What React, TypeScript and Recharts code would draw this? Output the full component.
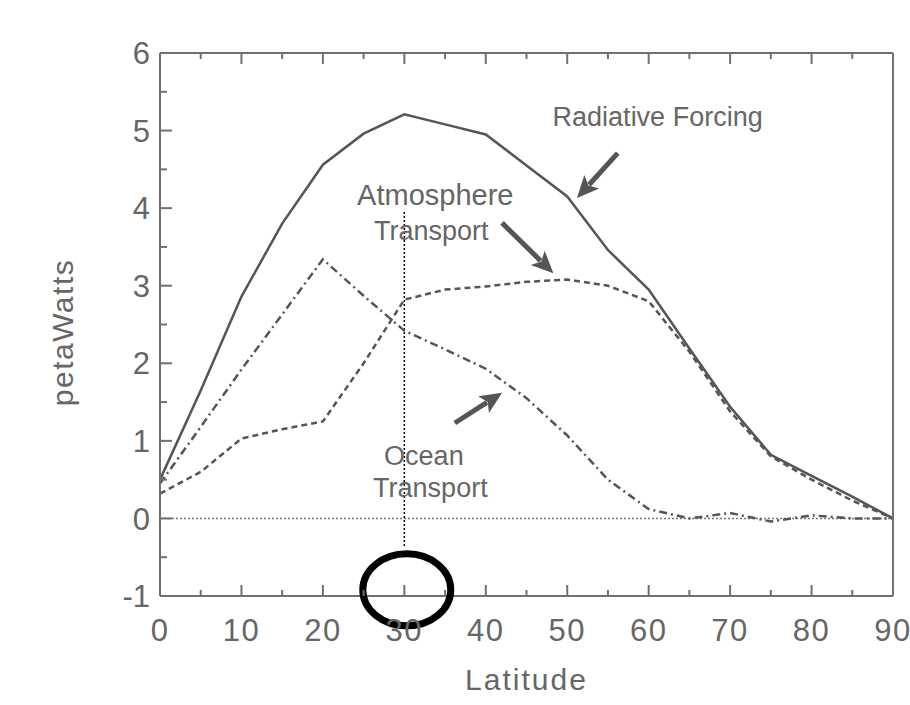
import { ComposedChart, Line, XAxis, YAxis, ReferenceLine, ReferenceDot } from "recharts";

// latitude grid (degrees) and the three energy curves (petaWatts)
const latitude = [0, 5, 10, 15, 20, 25, 30, 35, 40, 45, 50, 55, 60, 65, 70, 75, 80, 85, 90];
const radiativeForcing = [0.5, 1.65, 2.86, 3.8, 4.56, 4.96, 5.21, 5.08, 4.95, 4.55, 4.15, 3.46, 2.95, 2.19, 1.44, 0.82, 0.55, 0.28, 0];
const atmosphereTransport = [0.32, 0.6, 1.03, 1.15, 1.25, 2.0, 2.82, 2.95, 2.99, 3.05, 3.08, 3.0, 2.8, 2.15, 1.38, 0.8, 0.5, 0.23, 0];
const oceanTransport = [0.45, 1.18, 1.92, 2.63, 3.34, 2.87, 2.42, 2.18, 1.93, 1.55, 1.07, 0.5, 0.12, 0.0, 0.07, -0.04, 0.04, 0.0, 0];

const xTicks = [0, 5, 10, 15, 20, 25, 30, 35, 40, 45, 50, 55, 60, 65, 70, 75, 80, 85, 90];
const yTicks = [-1, -0.5, 0, 0.5, 1, 1.5, 2, 2.5, 3, 3.5, 4, 4.5, 5, 5.5, 6];

const data = latitude.map((lat, i) => ({
  lat,
  radiative: radiativeForcing[i],
  atmosphere: atmosphereTransport[i],
  ocean: oceanTransport[i],
}));

const AXIS = "#707070";
const LINE = "#555";
const TEXT = "#666";
const FONT = "'Liberation Sans', Arial, Helvetica, sans-serif";

const BottomTick = ({ x, y, payload }: any) => {
  const major = payload.value % 10 === 0;
  return (
    <g>
      <line x1={x} y1={y} x2={x} y2={y - (major ? 11 : 6)} stroke={AXIS} strokeWidth={2} />
      {major && (
        <text x={x} y={y + 45} textAnchor="middle" fill={TEXT} fontSize={31} fontFamily={FONT} letterSpacing={1.5}>
          {payload.value}
        </text>
      )}
    </g>
  );
};

const TopTick = ({ x, y, payload }: any) => {
  const major = payload.value % 10 === 0;
  return <line x1={x} y1={y} x2={x} y2={y + (major ? 11 : 6)} stroke={AXIS} strokeWidth={2} />;
};

const LeftTick = ({ x, y, payload }: any) => {
  const major = Number.isInteger(payload.value);
  return (
    <g>
      <line x1={x} y1={y} x2={x + (major ? 12 : 7)} y2={y} stroke={AXIS} strokeWidth={2} />
      {major && (
        <text x={x - 10} y={y} dy="0.36em" textAnchor="end" fill={TEXT} fontSize={31} fontFamily={FONT}>
          {payload.value}
        </text>
      )}
    </g>
  );
};

const RightTick = ({ x, y, payload }: any) => {
  const major = Number.isInteger(payload.value);
  return <line x1={x} y1={y} x2={x - (major ? 12 : 7)} y2={y} stroke={AXIS} strokeWidth={2} />;
};

const XTitle = (props: any) => {
  const vb = props.viewBox;
  return (
    <text x={vb.x + vb.width / 2} y={690} textAnchor="middle" fill={TEXT} fontSize={30} fontFamily={FONT} letterSpacing={2}>
      Latitude
    </text>
  );
};

const YTitle = (props: any) => {
  const vb = props.viewBox;
  const cy = vb.y + vb.height / 2 + 8;
  return (
    <text
      x={62}
      y={cy}
      transform={`rotate(-90 62 ${cy})`}
      textAnchor="middle"
      dominantBaseline="central"
      fill={TEXT}
      fontSize={30}
      fontFamily={FONT}
      letterSpacing={1.5}
    >
      petaWatts
    </text>
  );
};

const Arrow = (p: any) => {
  const { x1, y1, x2, y2 } = p;
  const dx = x2 - x1;
  const dy = y2 - y1;
  const len = Math.hypot(dx, dy);
  const ux = dx / len;
  const uy = dy / len;
  const head = 22;
  const half = 10;
  const bx = x2 - ux * head;
  const by = y2 - uy * head;
  return (
    <g>
      <line x1={x1} y1={y1} x2={bx + ux * 4} y2={by + uy * 4} stroke={LINE} strokeWidth={5} />
      <polygon
        points={`${x2},${y2} ${bx - uy * half},${by + ux * half} ${bx + ux * 5},${by + uy * 5} ${bx + uy * half},${by - ux * half}`}
        fill={LINE}
      />
    </g>
  );
};

const annotation = (text: string, size = 27) => (p: any) => (
  <text x={p.cx} y={p.cy} textAnchor="middle" fill={TEXT} fontSize={size} fontFamily={FONT}>
    {text}
  </text>
);

const Ellipse = (p: any) => (
  <ellipse cx={p.cx} cy={p.cy} rx={44} ry={36} fill="none" stroke="#000" strokeWidth={7} />
);

export default function App() {
  return (
    <div style={{ position: "absolute", left: 0, top: 0, background: "#fff" }}>
      <ComposedChart
        width={910}
        height={705}
        data={data}
        margin={{ top: 52, right: 16, bottom: 0, left: 0 }}
      >
        <XAxis
          dataKey="lat"
          type="number"
          domain={[0, 90]}
          ticks={xTicks}
          interval={0}
          tickSize={0}
          tickMargin={0}
          tickLine={false}
          tick={<BottomTick />}
          axisLine={{ stroke: AXIS, strokeWidth: 2 }}
          height={109}
          label={XTitle}
        />
        <XAxis
          xAxisId="top"
          orientation="top"
          dataKey="lat"
          type="number"
          domain={[0, 90]}
          ticks={xTicks}
          interval={0}
          tickSize={0}
          tickMargin={0}
          tickLine={false}
          tick={<TopTick />}
          axisLine={{ stroke: AXIS, strokeWidth: 2 }}
          height={1}
        />
        <YAxis
          type="number"
          domain={[-1, 6]}
          ticks={yTicks}
          interval={0}
          tickSize={0}
          tickMargin={0}
          tickLine={false}
          tick={<LeftTick />}
          axisLine={{ stroke: AXIS, strokeWidth: 2 }}
          width={160}
          label={YTitle}
        />
        <YAxis
          yAxisId="right"
          orientation="right"
          type="number"
          domain={[-1, 6]}
          ticks={yTicks}
          interval={0}
          tickSize={0}
          tickMargin={0}
          tickLine={false}
          tick={<RightTick />}
          axisLine={{ stroke: AXIS, strokeWidth: 2 }}
          width={1}
        />

        <ReferenceLine y={0} stroke="#777" strokeWidth={1.5} strokeDasharray="2 2" />
        <ReferenceLine
          segment={[
            { x: 30, y: 3.95 },
            { x: 30, y: -0.38 },
          ]}
          stroke="#000"
          strokeWidth={1.5}
          strokeDasharray="2 2"
        />

        <Line
          type="linear"
          dataKey="radiative"
          stroke={LINE}
          strokeWidth={2.5}
          dot={false}
          isAnimationActive={false}
        />
        <Line
          type="linear"
          dataKey="atmosphere"
          stroke={LINE}
          strokeWidth={2.5}
          strokeDasharray="6 4"
          dot={false}
          isAnimationActive={false}
        />
        <Line
          type="linear"
          dataKey="ocean"
          stroke={LINE}
          strokeWidth={2.5}
          strokeDasharray="8 4 2 4"
          dot={false}
          isAnimationActive={false}
        />

        {/* arrows pointing at the curves */}
        <ReferenceLine segment={[{ x: 56.2, y: 4.71 }, { x: 51.2, y: 4.13 }]} shape={Arrow} />
        <ReferenceLine segment={[{ x: 42.0, y: 3.81 }, { x: 48.3, y: 3.16 }]} shape={Arrow} />
        <ReferenceLine segment={[{ x: 36.2, y: 1.23 }, { x: 42.0, y: 1.62 }]} shape={Arrow} />

        {/* labels */}
        <ReferenceDot x={61.1} y={5.06} r={0} shape={annotation("Radiative Forcing")} />
        <ReferenceDot x={33.8} y={4.04} r={0} shape={annotation("Atmosphere", 29)} />
        <ReferenceDot x={33.3} y={3.59} r={0} shape={annotation("Transport")} />
        <ReferenceDot x={32.4} y={0.69} r={0} shape={annotation("Ocean")} />
        <ReferenceDot x={33.2} y={0.28} r={0} shape={annotation("Transport")} />

        <ReferenceDot x={30.3} y={-0.92} r={0} shape={Ellipse} />
      </ComposedChart>
    </div>
  );
}
